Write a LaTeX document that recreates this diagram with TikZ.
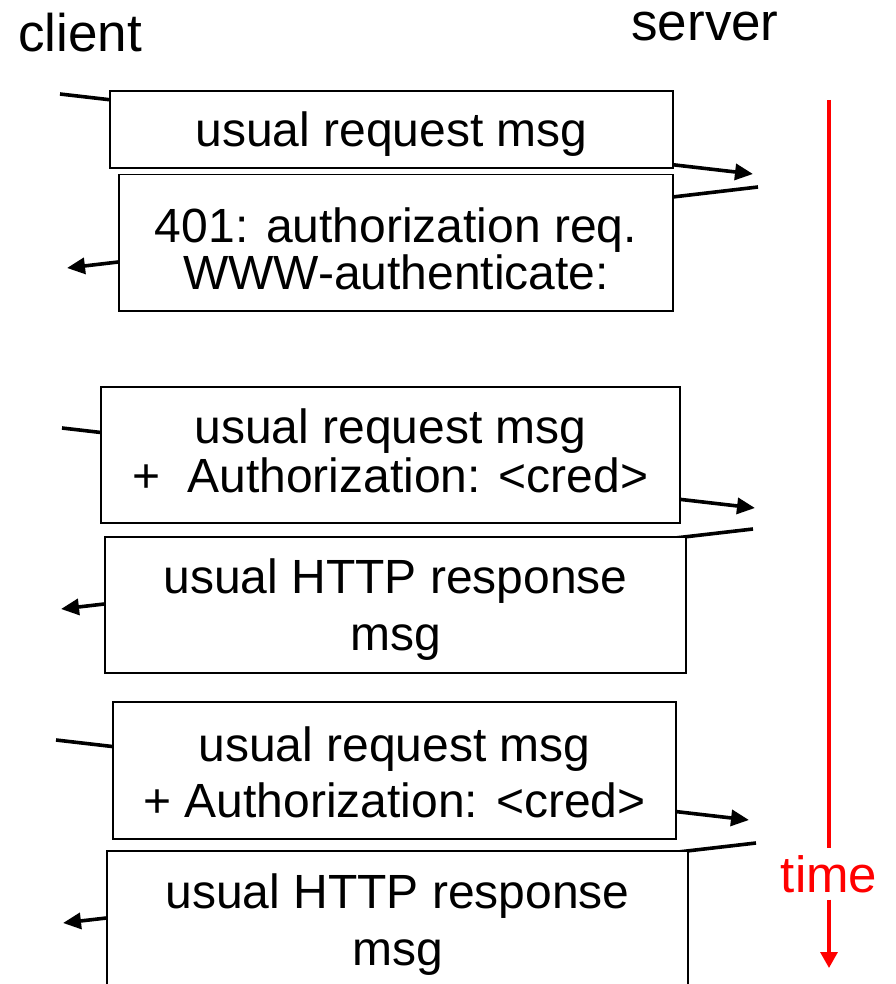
\documentclass[tikz,border=0pt]{standalone}
\usepackage{fontspec}
\setmainfont{Liberation Sans}
\usetikzlibrary{arrows.meta}

\begin{document}
\begin{tikzpicture}[x=1pt,y=-1pt,
  msg/.style={line width=3.6pt,-{Triangle[length=18pt,width=16pt]}},
  msgbox/.style={draw,line width=1.8pt,fill=white,inner sep=0pt,align=center,anchor=base,font=\fontsize{48}{57}\selectfont},
  lbl/.style={inner sep=0pt,anchor=base,font=\fontsize{53}{60}\selectfont}]
\useasboundingbox (0,0) rectangle (895,984);
\node[lbl] (client) at (80,52) {client};
\node[lbl] (server) at (705,41) {server};
% message lines: client <-> server
\coordinate (c1) at (60,94);   \coordinate (s1) at (753,174);
\coordinate (s2) at (758,187); \coordinate (c2) at (67,268);
\coordinate (c3) at (62,428);  \coordinate (s3) at (755,508);
\coordinate (s4) at (753,529); \coordinate (c4) at (61,609);
\coordinate (c5) at (56,740);  \coordinate (s5) at (749,820);
\coordinate (s6) at (756,843); \coordinate (c6) at (63,923);
\draw[msg] (c1) -- (s1);
\draw[msg] (s2) -- (c2);
\draw[msg] (c3) -- (s3);
\draw[msg] (s4) -- (c4);
\draw[msg] (c5) -- (s5);
\draw[msg] (s6) -- (c6);
% boxes over the lines (base = last line)
\node[msgbox,minimum width=563pt,text height=55.7pt,text depth=21.3pt] (req1) at (391.5,146.7) {usual request msg};
\node[msgbox,minimum width=554pt,text height=114.5pt,text depth=22pt,font=\fontsize{48}{47}\selectfont] (auth) at (396,289) {401: authorization req.\\WWW-authenticate:};
\node[msgbox,minimum width=579pt,text height=105pt,text depth=31pt,font=\fontsize{48}{49}\selectfont] (req2) at (390.5,492) {usual request msg\\+\ \ Authorization: <cred>};
\node[msgbox,minimum width=581pt,text height=113pt,text depth=23pt] (resp2) at (395.5,650) {usual HTTP response\\msg};
\node[msgbox,minimum width=563pt,text height=115pt,text depth=22pt,font=\fontsize{48}{56}\selectfont] (req3) at (394.5,817) {usual request msg\\+ Authorization: <cred>};
\node[msgbox,minimum width=581pt,text height=114pt,text depth=30pt] (resp3) at (397.5,965) {usual HTTP response\\msg};
% time axis
\coordinate (t0) at (829,100);
\coordinate (t1) at (829,968);
\node[lbl,text=red,inner sep=7pt,font=\fontsize{51}{60}\selectfont] (time) at (829,892) {time};
\draw[red,line width=3.3pt] (t0) -- (time);
\draw[red,line width=3.3pt,-{Triangle[length=16pt,width=17pt]}] (time) -- (t1);
\end{tikzpicture}
\end{document}
